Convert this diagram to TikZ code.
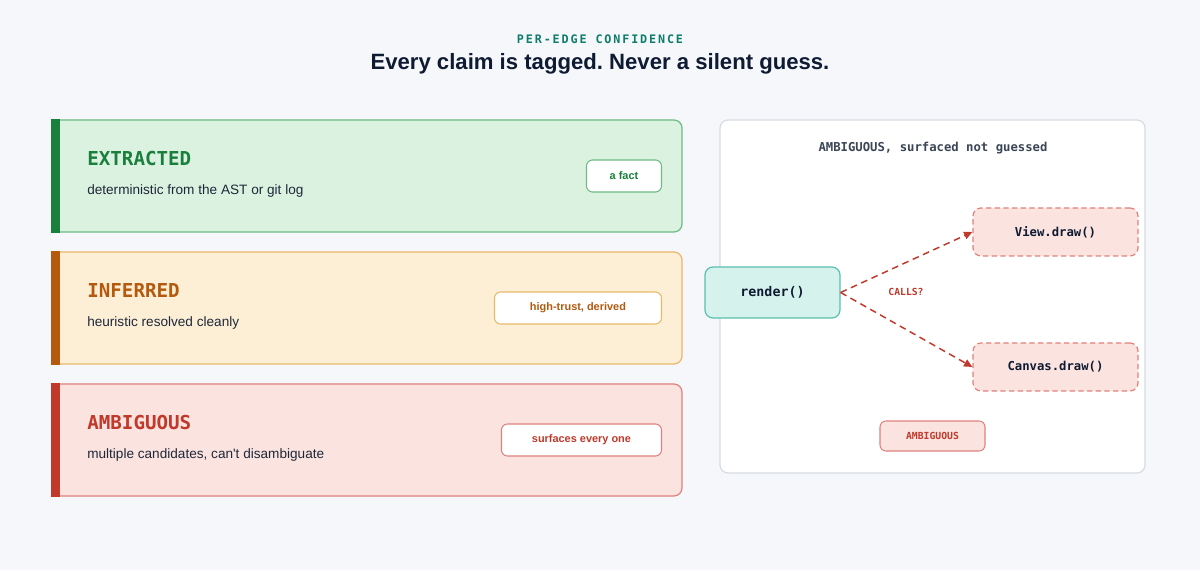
\documentclass[tikz,border=0pt]{standalone}
\usepackage{fontspec}
\setmainfont{Liberation Sans}
\setmonofont{DejaVu Sans Mono}
\newfontfamily\spacedmono[LetterSpace=16]{DejaVu Sans Mono}
\usetikzlibrary{arrows.meta,positioning,calc}
\frenchspacing

\definecolor{pagebg}{HTML}{F5F7FB}
\definecolor{ink}{HTML}{0F1B33}
\definecolor{bodytxt}{HTML}{1E2838}
\definecolor{teal}{HTML}{0F7D6B}
\definecolor{slate}{HTML}{3A4556}
\definecolor{grnDark}{HTML}{1A7F3C}
\definecolor{grnFill}{HTML}{DCF2E1}
\definecolor{grnLine}{HTML}{6DBB82}
\definecolor{ornDark}{HTML}{B35A0E}
\definecolor{ornFill}{HTML}{FDEFD6}
\definecolor{ornLine}{HTML}{E8B86A}
\definecolor{redDark}{HTML}{C0392B}
\definecolor{redFill}{HTML}{FBE3E0}
\definecolor{redLine}{HTML}{E0827C}
\definecolor{panelLine}{HTML}{D6DCE4}
\definecolor{tealFill}{HTML}{D5F2ED}
\definecolor{tealLine}{HTML}{5CBFAE}

\begin{document}
\begin{tikzpicture}[
  x=0.75pt, y=-0.75pt,
  >={Triangle[length=2.2mm, width=2mm]},
  card/.style={rounded corners=6pt, line width=0.9pt, minimum width=472.5pt, minimum height=84pt, inner sep=0pt},
  cardtitle/.style={anchor=west, inner sep=0pt, font=\ttfamily\bfseries\fontsize{14.4}{17}\selectfont},
  carddesc/.style={anchor=west, inner sep=0pt, text=bodytxt, font=\fontsize{10.2}{13}\selectfont\addfontfeature{Ligatures=TeXOff}},
  badge/.style={anchor=east, draw, fill=white, rounded corners=4.5pt, line width=0.8pt, minimum height=24pt, inner sep=0pt, font=\bfseries\fontsize{8.2}{10}\selectfont},
  fnbox/.style={rounded corners=6pt, line width=0.9pt, minimum width=123.75pt, minimum height=36pt, inner sep=0pt, font=\ttfamily\bfseries\fontsize{9.2}{11}\selectfont, text=ink},
  guess/.style={fnbox, fill=redFill, draw=redLine, dashed, dash pattern=on 4pt off 2.5pt},
  maybe/.style={->, draw=redDark, line width=1.1pt, dash pattern=on 5pt off 3.5pt},
  tag/.style={inner sep=0pt, font=\ttfamily\bfseries\fontsize{7.3}{9}\selectfont, text=redDark},
]
\useasboundingbox[fill=pagebg] (0,0) rectangle (1200,570);

% ---- heading -----------------------------------------------------------------
\node[inner sep=0pt, text=teal, font=\spacedmono\bfseries\fontsize{8.8}{10}\selectfont] (kicker) at (600,39) {PER-EDGE CONFIDENCE};
\node[inner sep=0pt, text=ink, font=\bfseries\fontsize{16.6}{20}\selectfont] (headline) at (600,64) {Every claim is tagged. Never a silent guess.};

% ---- the three confidence cards ---------------------------------------------
\node[card, fill=grnFill, draw=grnLine] (ext) at (367,176) {};
\node[card, fill=ornFill, draw=ornLine] (inf) at (367,308) {};
\node[card, fill=redFill, draw=redLine] (amb) at (367,440) {};
\fill[grnDark] (ext.north west) rectangle ($(ext.south west)+(9,0)$);
\fill[ornDark] (inf.north west) rectangle ($(inf.south west)+(9,0)$);
\fill[redDark] (amb.north west) rectangle ($(amb.south west)+(9,0)$);

\node[cardtitle, text=grnDark] (extname) at (87,159) {EXTRACTED};
\node[carddesc] (extdesc) at (87,191) {deterministic from the AST or git log};
\node[badge, draw=grnLine, text=grnDark, minimum width=56.25pt] (extbadge) at (662,176) {a fact};

\node[cardtitle, text=ornDark] (infname) at (87,291) {INFERRED};
\node[carddesc] (infdesc) at (87,323) {heuristic resolved cleanly};
\node[badge, draw=ornLine, text=ornDark, minimum width=125.25pt] (infbadge) at (662,308) {high-trust, derived};

\node[cardtitle, text=redDark] (ambname) at (87,423) {AMBIGUOUS};
\node[carddesc] (ambdesc) at (87,455) {multiple candidates, can't disambiguate};
\node[badge, draw=redLine, text=redDark, minimum width=120pt] (ambbadge) at (662,440) {surfaces every one};

% ---- example panel -------------------------------------------------------------
\node[fill=white, draw=panelLine, line width=0.9pt, rounded corners=6pt, minimum width=318.75pt, minimum height=264.75pt] (panel) at (932.5,296.5) {};
\node[inner sep=0pt, text=slate, font=\ttfamily\bfseries\fontsize{9.2}{11}\selectfont] (paneltitle) at (933,148) {AMBIGUOUS, surfaced not guessed};

\node[fnbox, fill=tealFill, draw=tealLine, minimum width=101.25pt, minimum height=38.25pt, font=\ttfamily\bfseries\fontsize{10}{12}\selectfont] (render) at (772.5,292.5) {render()};
\node[guess] (view) at (1055.5,232) {View.draw()};
\node[guess] (canvas) at (1055.5,367) {Canvas.draw()};

\draw[maybe] (render.east) -- (view.west);
\draw[maybe] (render.east) -- (canvas.west);
\node[tag] (calls) at (906,292) {CALLS?};

\node[tag, fill=redFill, draw=redLine, line width=0.8pt, rounded corners=4.5pt, minimum width=78.75pt, minimum height=22.5pt] (ambtag) at (932.5,436) {AMBIGUOUS};

\end{tikzpicture}
\end{document}
